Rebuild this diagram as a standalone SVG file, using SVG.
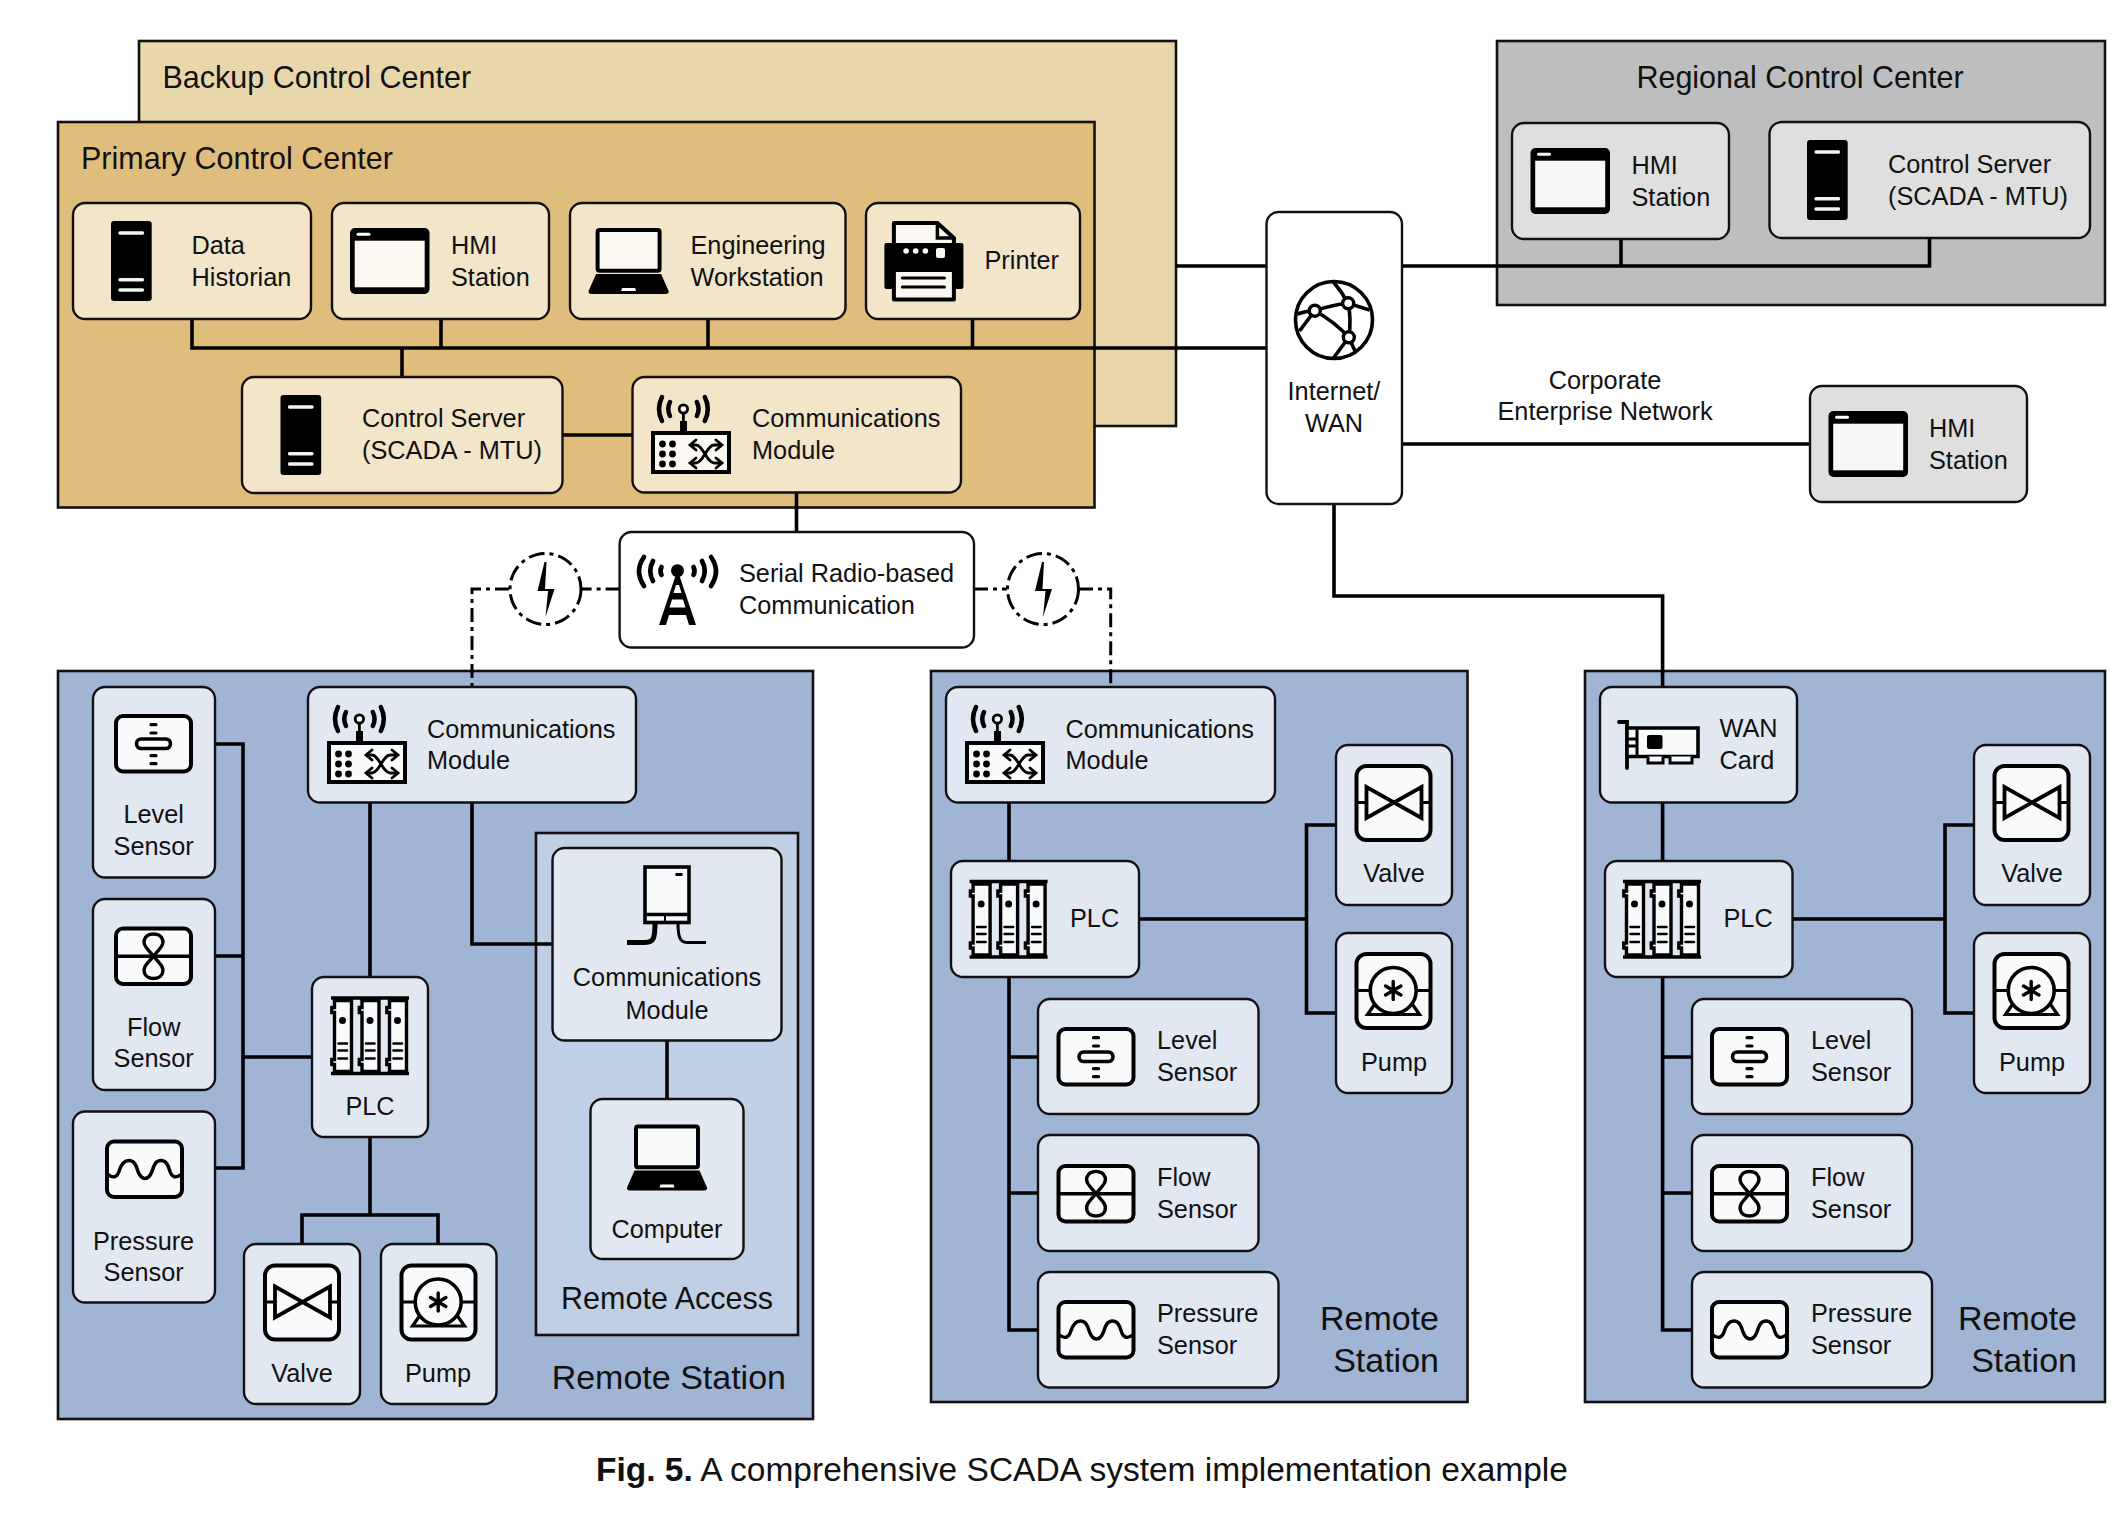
<svg xmlns="http://www.w3.org/2000/svg" width="2124" height="1538" viewBox="0 0 2124 1538">
<style>
text{font-family:"Liberation Sans",Arial,sans-serif;fill:#111;font-size:25.3px}
.m{text-anchor:middle}.e{text-anchor:end}
.h{font-size:30.500px}.rs{font-size:34px}
.g{stroke:#111;stroke-width:2.600}
.n{stroke:#111;stroke-width:2.400}
.tan{fill:#F2E5C9}.gry{fill:#DFDFDF}.blu{fill:#E1E8F2}
.w{fill:#fff}
.c{fill:none;stroke:#000;stroke-width:3.600}
.d{fill:none;stroke:#000;stroke-width:3;stroke-dasharray:14 5 4 5}
.ik{stroke:#000;stroke-width:4;stroke-linejoin:round}
.ln{fill:none;stroke:#000;stroke-linecap:round}
</style>
<defs>
<g id="server"><rect width="40.700" height="80" rx="3" fill="#000"/><g stroke-width="3.400" stroke-linecap="round" style="stroke:#fff;opacity:.95"><path d="M9 12H31.500M9 58.700H31.500M9 69H31.500"/></g></g>
<g id="window"><rect width="79.500" height="66" rx="5" fill="#000"/><rect x="4.700" y="12.700" width="70" height="46.600"/><path d="M8 6.300H19" stroke="#fff" stroke-width="3" stroke-linecap="round"/></g>
<g id="laptop"><rect x="9" y="2" width="62" height="40.700" rx="2" class="ik"/><path d="M7.500 46H72.500L80 63Q80.500 66 77 66H3Q-.5 66 0 63Z" fill="#000"/><path d="M33.500 60H46.500L47.500 63H32.500Z" fill="#fff"/></g>
<g id="printer"><path d="M9.500 2H53L69.500 17V24H9.500Z" class="ik"/><path d="M53 2V17H69.500" class="ln" stroke-width="3.500"/><rect y="22" width="79" height="46" rx="2" fill="#000"/><circle cx="21.700" cy="30" r="2.800" fill="#fff"/><circle cx="31.300" cy="30" r="2.800" fill="#fff"/><circle cx="41" cy="30" r="2.800" fill="#fff"/><rect x="51.600" y="27" width="9" height="10" rx="2"/><rect x="9.500" y="49" width="60" height="29.500" class="ik"/><path d="M18 57H60M18 66H60" class="ln" stroke-width="3.200"/></g>
<g id="comm"><g class="ln" stroke-width="4.500"><path d="M11 2Q5 14 11 26M53.800 2Q59.800 14 53.800 26M19 7Q15.500 14 19 21M45.800 7Q49.300 14 45.800 21"/></g><circle cx="32.400" cy="14" r="4.200" stroke="#000" stroke-width="2.800"/><path d="M32.400 18V28" stroke="#000" stroke-width="2.800"/><rect x="29" y="26" width="7" height="12" fill="#000"/><rect x="2" y="38" width="76" height="39" stroke="#000" stroke-width="4"/><g fill="#000"><circle cx="11.500" cy="49" r="3.400"/><circle cx="21.500" cy="49" r="3.400"/><circle cx="11.500" cy="59" r="3.400"/><circle cx="21.500" cy="59" r="3.400"/><circle cx="11.500" cy="69" r="3.400"/><circle cx="21.500" cy="69" r="3.400"/></g><g class="ln" stroke-width="2.800"><path d="M40 50H45C52 50 56 68 63 68H70M40 68H45C52 68 56 50 63 50H70"/><path d="M65 45L71 50L65 55M65 63L71 68L65 73M45 63L39 68L45 73M45 45L39 50L45 55"/></g></g>
<g id="boxrect"><rect x="2" y="2" width="75" height="55.500" rx="7" stroke="#000" stroke-width="4"/></g>
<g id="level"><use href="#boxrect"/><rect x="22.500" y="25" width="34" height="9.500" rx="4.700" stroke="#000" stroke-width="3.600"/><path d="M37 10.700H42M37 19H42M37 41.700H42M37 49.700H42" class="ln" stroke-width="3.200"/></g>
<g id="flow"><use href="#boxrect"/><path d="M2 29.700H77" class="ln" stroke-width="3.400"/><path d="M39.500 29.700C33 22 28.500 18 30.500 13C32 8.500 36 7.500 39.500 7.500C43 7.500 47 8.500 48.500 13C50.500 18 46 22 39.500 29.700C33 37 28.500 41 30.500 46.500C32 51 36 52 39.500 52C43 52 47 51 48.500 46.500C50.500 41 46 37 39.500 29.700Z" fill="none" stroke="#000" stroke-width="3.400"/></g>
<g id="pressure"><use href="#boxrect"/><path d="M3 35C8 39 12 38 14 32C16 25 19 21 24 21C29 21 31 25 33 32C35 37 37 39 40 39C43 39 45 37 47 32C49 25 51 21 56 21C61 21 63 25 65 32C67 38 71 39 76 35" fill="none" stroke="#000" stroke-width="3.400"/></g>
<g id="rbox"><rect x="2" y="2" width="74" height="74" rx="10" stroke="#000" stroke-width="4"/></g>
<g id="valve"><use href="#rbox"/><path d="M12 23V54L67 23V54Z" fill="none" stroke="#000" stroke-width="3.800" stroke-linejoin="miter"/><path d="M3 38.500H12M67 38.500H76" class="ln" stroke-width="3.200"/></g>
<g id="pump"><use href="#rbox"/><path d="M3 38.500H16M61 38.500H76" class="ln" stroke-width="3.200"/><path d="M21 51L13 62.500H65L57 51" fill="none" stroke="#000" stroke-width="3.200"/><circle cx="38.700" cy="38.500" r="23" stroke="#000" stroke-width="3.600"/><path d="M38.700 29.500V47.500M31 34L46.400 43M46.400 34L31 43" class="ln" stroke-width="3.400"/></g>
<g id="card"><path d="M3.500 4V11H0.800V16H3.500V63H0.800V68H3.500V75H20.500V4Z" stroke="#000" stroke-width="3.400"/><circle cx="11.500" cy="24" r="3.500" fill="#000"/><path d="M7.500 47H16M7.500 54H16M7.500 62H16" class="ln" stroke-width="2.600"/></g>
<g id="plc"><use href="#card"/><use href="#card" x="27.500"/><use href="#card" x="55"/><path d="M0 1.500H78M0 77H78" stroke="#000" stroke-width="3.600" fill="none"/></g>
<g id="wancard"><path d="M1 2H9V48" class="ln" stroke-width="3.800"/><path d="M9 8H80V36.500H9Z" stroke="#000" stroke-width="3.600"/><path d="M19 8V36.500" stroke="#000" stroke-width="3"/><rect x="29" y="15" width="15.500" height="14" rx="2" fill="#000"/><path d="M30 36.500V43H45V36.500M52 36.500V43H74V36.500" stroke="#000" stroke-width="3"/><path d="M9 19H19M9 26H19" stroke="#000" stroke-width="3"/></g>
<g id="bolt"><path d="M-1 -27L-8 2H2.500L0 28L9 0H-.5L1 -27Z" fill="#000"/></g>
<g id="tower"><g class="ln" stroke-width="4.700"><path d="M6 3Q-4 17 6 32M73 3Q83 17 73 32M15 7Q9.500 17 15 27M64 7Q69.500 17 64 27M23.500 13Q21.500 17 23.500 21M55.500 13Q57.500 17 55.500 21"/></g><circle cx="39.500" cy="16.700" r="6.500" fill="#000"/><path d="M39.500 16L58 71H51L48 61H31L28 71H21Z" fill="#000"/><path d="M38 31H41L43.500 39H35.500ZM34 45.500H45L47.500 53.500H31.500Z" fill="#fff"/></g>
</defs>

<rect id="backup-bg" x="139" y="41" width="1037" height="385" class="g" fill="#E9D7AC"/>
<rect id="primary-bg" x="58" y="122" width="1036.500" height="385.500" class="g" fill="#DFBD7C"/>
<rect id="regional-bg" x="1497" y="41" width="608" height="264" class="g" fill="#BDBEC0"/>
<rect id="remote1-bg" x="58" y="671" width="755" height="748" class="g" fill="#9FB5D3"/>
<rect id="remote2-bg" x="931" y="671" width="536.500" height="731" class="g" fill="#9FB5D3"/>
<rect id="remote3-bg" x="1585" y="671" width="520" height="731" class="g" fill="#9FB5D3"/>
<rect id="remote-access-bg" x="536" y="833" width="262" height="502" class="g" fill="#C0D0E4"/>
<text x="162.500" y="88" class="h">Backup Control Center</text>
<text x="81" y="169" class="h">Primary Control Center</text>
<text x="1800" y="88" class="h m">Regional Control Center</text>
<text x="786" y="1389" class="rs e">Remote Station</text>
<text x="667" y="1309" class="h m">Remote Access</text>
<text class="rs e" x="1439" y="1330">Remote</text><text class="rs e" x="1439" y="1372">Station</text>
<text class="rs e" x="2077" y="1330">Remote</text><text class="rs e" x="2077" y="1372">Station</text>

<g id="connectors">
<path class="c" d="M192 319V348H1266.500M441 319V348M708 319V348M972.500 319V348M402 348V377M562 435H632M796.500 493V532"/>
<path class="c" d="M1176 266H1266.500M1402 266H1929.500V238M1621 239V266M1402 444H1810M1334 504V596H1662.600V687"/>
<path class="c" d="M215 744H243V1168H215M215 956H243M243 1057H312M370 803V977M472 803V944H551.700M667 1041V1100M370 1137V1215M302 1244V1215H438V1244"/>
<path class="c" d="M1009 802V861M1009 977V1330H1037.700M1009 1057H1037.700M1009 1193H1037.700M1139 919H1306.500M1336 825H1306.500V1013H1336"/>
<path class="c" d="M1662.600 802V861M1662.600 977V1330H1691.500M1662.600 1057H1691.500M1662.600 1193H1691.500M1792.500 919H1945M1974 825H1945V1013H1974"/>
<path class="d" d="M619.600 589H581M509 589H472V686"/>
<path class="d" d="M974 589H1007M1079 589H1110.700V686"/>
</g>

<g id="link-left"><circle cx="545.500" cy="589" r="35.500" fill="none" stroke="#000" stroke-width="3" stroke-dasharray="16 5 4 5"/><use href="#bolt" x="545.500" y="589"/></g>
<g id="link-right"><circle cx="1043" cy="589" r="35.500" fill="none" stroke="#000" stroke-width="3" stroke-dasharray="16 5 4 5"/><use href="#bolt" x="1043" y="589"/></g>

<g id="data-historian"><rect x="73" y="203" width="238" height="116" rx="12" class="n tan"/><use href="#server" x="111" y="221" fill="#FBF8F1"/><text x="191.500" y="254">Data</text><text x="191.500" y="286">Historian</text></g>
<g id="hmi-primary"><rect x="332" y="203" width="217" height="116" rx="12" class="n tan"/><use href="#window" x="350" y="228" fill="#FBF8F1"/><text x="451" y="254">HMI</text><text x="451" y="286">Station</text></g>
<g id="eng-workstation"><rect x="570" y="203" width="275.500" height="116" rx="12" class="n tan"/><use href="#laptop" x="588.600" y="228" fill="#FBF8F1"/><text x="690.500" y="254">Engineering</text><text x="690.500" y="286">Workstation</text></g>
<g id="printer-node"><rect x="866" y="203" width="214" height="116" rx="12" class="n tan"/><use href="#printer" x="884.400" y="221" fill="#FBF8F1"/><text x="984.500" y="269">Printer</text></g>
<g id="control-server"><rect x="242" y="377" width="320.500" height="116" rx="12" class="n tan"/><use href="#server" x="280.500" y="395" fill="#FBF8F1"/><text x="362" y="427">Control Server</text><text x="362" y="459">(SCADA - MTU)</text></g>
<g id="comm-primary"><rect x="632.500" y="377" width="328.500" height="115.500" rx="12" class="n tan"/><use href="#comm" x="651" y="395" fill="#FBF8F1"/><text x="752" y="427">Communications</text><text x="752" y="459">Module</text></g>

<g id="internet-wan"><rect x="1266.500" y="212" width="135.500" height="292" rx="12" class="n w"/><g fill="none" stroke="#000" stroke-width="3.600"><circle cx="1334" cy="320" r="38.500"/><path d="M1297.500 314Q1305 311 1314.800 310.700Q1332 305 1348.200 303.300L1369.500 310M1333.500 282Q1342 292 1348.200 303.300Q1351.500 320 1348.800 337.300M1314.800 310.700Q1335 322 1348.800 337.300M1314.800 310.700L1299.500 331M1348.800 337.300L1333.500 358M1348.800 337.300L1355.500 352"/></g><g fill="#fff" stroke="#000" stroke-width="3.400"><circle cx="1314.800" cy="310.700" r="5.500"/><circle cx="1348.200" cy="303.300" r="5.500"/><circle cx="1348.800" cy="337.300" r="5.500"/></g><text x="1334" y="400" class="m">Internet/</text><text x="1334" y="431.500" class="m">WAN</text></g>

<g id="hmi-regional"><rect x="1512" y="123" width="217" height="116" rx="12" class="n gry"/><use href="#window" x="1530.500" y="148" fill="#F7F7F7"/><text x="1631.500" y="174">HMI</text><text x="1631.500" y="206">Station</text></g>
<g id="control-regional"><rect x="1769.500" y="122" width="320.500" height="116" rx="12" class="n gry"/><use href="#server" x="1807" y="140" fill="#F7F7F7"/><text x="1888" y="173">Control Server</text><text x="1888" y="205">(SCADA - MTU)</text></g>
<text id="corp-label-1" x="1605" y="389" class="m">Corporate</text><text id="corp-label-2" x="1605" y="420" class="m">Enterprise Network</text>
<g id="hmi-corp"><rect x="1810" y="386" width="217" height="116" rx="12" class="n gry"/><use href="#window" x="1828.500" y="411" fill="#F7F7F7"/><text x="1929" y="437">HMI</text><text x="1929" y="468.500">Station</text></g>

<g id="serial-radio"><rect x="619.600" y="532" width="354.400" height="115.500" rx="12" class="n w"/><use href="#tower" x="638" y="554" fill="#fff"/><text x="739" y="582">Serial Radio-based</text><text x="739" y="614">Communication</text></g>

<g id="r1-level"><rect x="93" y="687" width="122" height="190.500" rx="12" class="n blu"/><use href="#level" x="114" y="714" fill="#F9FAFC"/><text x="153.700" y="823" class="m">Level</text><text x="153.700" y="855" class="m">Sensor</text></g>
<g id="r1-flow"><rect x="93" y="899" width="122" height="191" rx="12" class="n blu"/><use href="#flow" x="114" y="926.500" fill="#F9FAFC"/><text x="153.700" y="1036" class="m">Flow</text><text x="153.700" y="1067" class="m">Sensor</text></g>
<g id="r1-pressure"><rect x="73" y="1111.500" width="142" height="191" rx="12" class="n blu"/><use href="#pressure" x="105" y="1139.500" fill="#F9FAFC"/><text x="143.600" y="1249.500" class="m">Pressure</text><text x="143.600" y="1281" class="m">Sensor</text></g>
<g id="r1-comm"><rect x="308" y="687" width="328" height="115.500" rx="12" class="n blu"/><use href="#comm" x="327" y="705" fill="#F9FAFC"/><text x="427" y="737.500">Communications</text><text x="427" y="769">Module</text></g>
<g id="r1-plc"><rect x="312" y="977" width="116" height="160" rx="12" class="n blu"/><use href="#plc" x="331" y="996.500" fill="#F9FAFC"/><text x="370" y="1115" class="m">PLC</text></g>
<g id="r1-valve"><rect x="244" y="1244" width="116" height="160" rx="12" class="n blu"/><use href="#valve" x="263" y="1263.500" fill="#F9FAFC"/><text x="302" y="1382" class="m">Valve</text></g>
<g id="r1-pump"><rect x="381" y="1244" width="115.500" height="160" rx="12" class="n blu"/><use href="#pump" x="399.500" y="1263.500" fill="#F9FAFC"/><text x="438" y="1382" class="m">Pump</text></g>
<g id="r1-access-comm"><rect x="552.500" y="848" width="229" height="192.500" rx="12" class="n blu"/><rect x="645" y="867" width="44" height="55.500" stroke="#000" stroke-width="3.600" fill="#F9FAFC"/><path d="M645 914.500H689" stroke="#000" stroke-width="3.600"/><path d="M665 922.500V914.500" stroke="#000" stroke-width="2"/><rect x="675.500" y="873" width="7" height="3" fill="#000"/><path d="M655 922.500C655 938 654 942.500 645 942.500H627" fill="none" stroke="#000" stroke-width="5"/><path d="M678 922.500C678 938 680 942.500 688 942.500H706" fill="none" stroke="#000" stroke-width="3"/><text x="667" y="986" class="m">Communications</text><text x="667" y="1018.500" class="m">Module</text></g>
<g id="r1-computer"><rect x="590.500" y="1099" width="153" height="160" rx="12" class="n blu"/><use href="#laptop" x="627" y="1124.500" fill="#F9FAFC"/><text x="667" y="1237.500" class="m">Computer</text></g>

<g id="r2-comm"><rect x="946" y="687" width="329" height="115.500" rx="12" class="n blu"/><use href="#comm" x="965" y="705" fill="#F9FAFC"/><text x="1065.500" y="737.500">Communications</text><text x="1065.500" y="769">Module</text></g>
<g id="r2-plc"><rect x="951" y="861" width="188" height="116" rx="12" class="n blu"/><use href="#plc" x="969.600" y="880" fill="#F9FAFC"/><text x="1070" y="927">PLC</text></g>
<g id="r2-level"><rect x="1038" y="999" width="220.500" height="115" rx="12" class="n blu"/><use href="#level" x="1056.500" y="1027" fill="#F9FAFC"/><text x="1157" y="1049">Level</text><text x="1157" y="1081">Sensor</text></g>
<g id="r2-flow"><rect x="1038" y="1135" width="220.500" height="116" rx="12" class="n blu"/><use href="#flow" x="1056.500" y="1164" fill="#F9FAFC"/><text x="1157" y="1186">Flow</text><text x="1157" y="1217.500">Sensor</text></g>
<g id="r2-pressure"><rect x="1038" y="1272" width="240.500" height="115.500" rx="12" class="n blu"/><use href="#pressure" x="1056.500" y="1300" fill="#F9FAFC"/><text x="1157" y="1322">Pressure</text><text x="1157" y="1354">Sensor</text></g>
<g id="r2-valve"><rect x="1336" y="745" width="116" height="160" rx="12" class="n blu"/><use href="#valve" x="1354.500" y="764" fill="#F9FAFC"/><text x="1394" y="882" class="m">Valve</text></g>
<g id="r2-pump"><rect x="1336" y="933" width="116" height="160" rx="12" class="n blu"/><use href="#pump" x="1354.500" y="952" fill="#F9FAFC"/><text x="1394" y="1070.500" class="m">Pump</text></g>

<g id="r3-wan"><rect x="1600" y="687" width="197" height="115.500" rx="12" class="n blu"/><use href="#wancard" x="1618" y="720" fill="#F9FAFC"/><text x="1719.500" y="737">WAN</text><text x="1719.500" y="768.500">Card</text></g>
<g id="r3-plc"><rect x="1605" y="861" width="187.500" height="116" rx="12" class="n blu"/><use href="#plc" x="1623" y="880" fill="#F9FAFC"/><text x="1723.500" y="927">PLC</text></g>
<g id="r3-level"><rect x="1692" y="999" width="220" height="115" rx="12" class="n blu"/><use href="#level" x="1710" y="1027" fill="#F9FAFC"/><text x="1811" y="1049">Level</text><text x="1811" y="1081">Sensor</text></g>
<g id="r3-flow"><rect x="1692" y="1135" width="220" height="116" rx="12" class="n blu"/><use href="#flow" x="1710" y="1164" fill="#F9FAFC"/><text x="1811" y="1186">Flow</text><text x="1811" y="1217.500">Sensor</text></g>
<g id="r3-pressure"><rect x="1692" y="1272" width="240" height="115.500" rx="12" class="n blu"/><use href="#pressure" x="1710" y="1300" fill="#F9FAFC"/><text x="1811" y="1322">Pressure</text><text x="1811" y="1354">Sensor</text></g>
<g id="r3-valve"><rect x="1974" y="745" width="116" height="160" rx="12" class="n blu"/><use href="#valve" x="1992.500" y="764" fill="#F9FAFC"/><text x="2032" y="882" class="m">Valve</text></g>
<g id="r3-pump"><rect x="1974" y="933" width="116" height="160" rx="12" class="n blu"/><use href="#pump" x="1992.500" y="952" fill="#F9FAFC"/><text x="2032" y="1070.500" class="m">Pump</text></g>

<text id="caption" x="596" y="1481" style="font-size:33.500px"><tspan style="font-weight:bold">Fig. 5.</tspan> A comprehensive SCADA system implementation example</text>
</svg>
